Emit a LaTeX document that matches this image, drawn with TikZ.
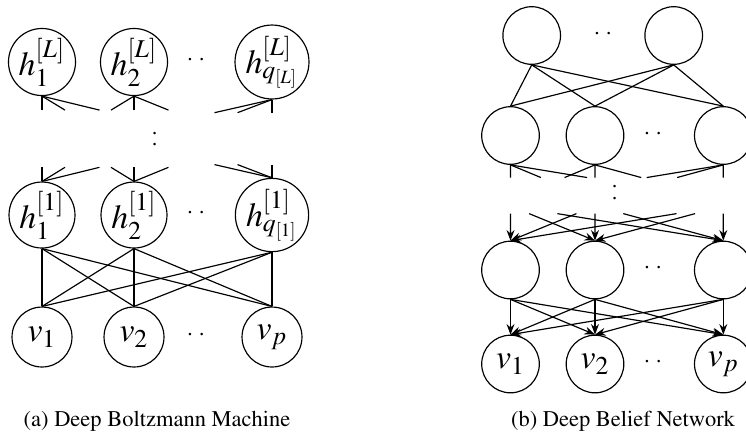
\documentclass[tikz,border=0pt]{standalone}
\usepackage[T1]{fontenc}
\usepackage{mathptmx}
\usetikzlibrary{arrows.meta, calc}

\tikzset{
	unit/.style={draw, circle, inner sep=0pt, minimum size=25.6pt, font=\Large},
	dbnunit/.style={unit, minimum size=24.6pt},
	gapdots/.style={inner sep=0pt, font=\normalsize},
	caption/.style={anchor=base, font=\fontsize{9.6}{11}\selectfont},
}

\begin{document}
\begin{tikzpicture}[x=0.427pt, y=-0.427pt, line width=0.5pt]
	\useasboundingbox (0,0) rectangle (746,432);

		%(a) boltzmann machine
	\node[unit] (top1) at (42,62) {$h^{[L]}_1$};
	\node[unit] (top2) at (134,62) {$h^{[L]}_2$};
	\node[unit] (top3) at (272,62) {$h^{[L]}_{q_{[L]}}$};
	\node[unit] (hid1) at (42,215) {$h^{[1]}_1$};
	\node[unit] (hid2) at (134,215) {$h^{[1]}_2$};
	\node[unit] (hid3) at (272,215) {$h^{[1]}_{q_{[1]}}$};
	\node[unit] (vis1) at (42,337) {$v_1$};
	\node[unit] (vis2) at (134,337) {$v_2$};
	\node[unit] (vis3) at (272,337) {$v_p$};

	\node[gapdots] (ta) at (196,62) {\textperiodcentered\ \textperiodcentered};
	\node[gapdots] (ha) at (196,215) {\textperiodcentered\ \textperiodcentered};
	\node[gapdots] (va) at (196,337) {\textperiodcentered\ \textperiodcentered};
	\node[gapdots, rotate=90] (ma) at (157,139) {\textperiodcentered\ \textperiodcentered};

		%full layers, and cut-off links to the hidden layers in between
	\foreach \i in {1,2,3}
		\foreach \j/\x in {1/42,2/134,3/272} {
			\draw (hid\i.south) -- (vis\j.north);
			\draw (top\i.south) -- ($(top\i.south)!0.25!(\x,152)$);
			\draw ($(hid\i.north)!0.25!(\x,125)$) -- (hid\i.north);
		}

	\node[caption] (capa) at (157,426) {(a) Deep Boltzmann Machine};

		%(b) belief network
	\node[dbnunit] (dtop1) at (531.7,35.5) {};
	\node[dbnunit] (dtop2) at (673.7,35.5) {};
	\node[dbnunit] (dmid1) at (510.5,135.5) {};
	\node[dbnunit] (dmid2) at (595,135.5) {};
	\node[dbnunit] (dmid3) at (723.3,135.5) {};
	\node[dbnunit] (dlow1) at (510.5,270) {};
	\node[dbnunit] (dlow2) at (595,270) {};
	\node[dbnunit] (dlow3) at (723.3,270) {};
	\node[dbnunit] (dvis1) at (510.5,364) {$v_1$};
	\node[dbnunit] (dvis2) at (595,364) {$v_2$};
	\node[dbnunit] (dvis3) at (723.3,364) {$v_p$};

	\node[gapdots] (tb) at (603,35.5) {\textperiodcentered\ \textperiodcentered};
	\node[gapdots] (mb) at (653,135.5) {\textperiodcentered\ \textperiodcentered};
	\node[gapdots] (lb) at (653,270) {\textperiodcentered\ \textperiodcentered};
	\node[gapdots] (vb) at (653,364) {\textperiodcentered\ \textperiodcentered};
	\node[gapdots, rotate=90] (gb) at (617,192.5) {\textperiodcentered\ \textperiodcentered};

		%undirected top, directed below
	\foreach \i in {1,2}
		\foreach \j in {1,2,3}
			\draw (dtop\i.south) -- (dmid\j.north);
	\foreach \i in {1,2,3}
		\foreach \j/\x in {1/510.5,2/595,3/723.3} {
			\draw (dmid\i.south) -- ($(dmid\i.south)!0.36!(\x,200)$);
			\draw[-{Stealth[length=4.5pt]}] ($(\x,206)!0.22!(dlow\i.north)$) -- (dlow\i.north);
			\draw[-{Stealth[length=4.5pt]}] (dlow\i.south) -- (dvis\j.north);
		}

	\node[caption] (capb) at (623,426) {(b) Deep Belief Network};
\end{tikzpicture}
\end{document}
